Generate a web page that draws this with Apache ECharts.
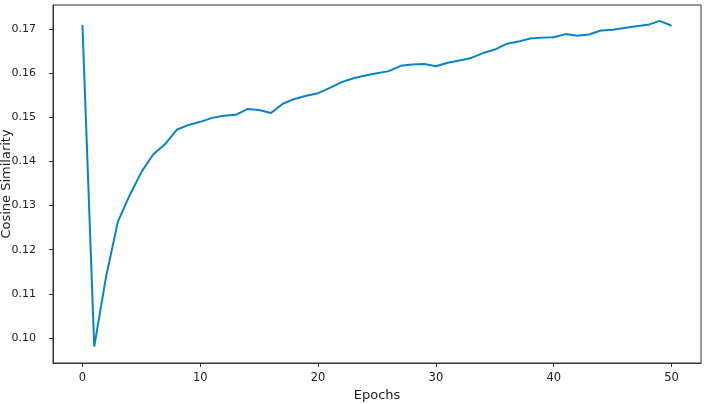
<!DOCTYPE html>
<html>
<head>
<meta charset="utf-8">
<script src="https://cdn.jsdelivr.net/npm/echarts@6/dist/echarts.min.js"></script>
<style>html,body{margin:0;padding:0;background:#fff}#c{width:706px;height:404px}</style>
</head>
<body>
<div id="c"></div>
<script>
const epochs = [0,1,2,3,4,5,6,7,8,9,10,11,12,13,14,15,16,17,18,19,20,21,22,23,24,25,26,27,28,29,30,31,32,33,34,35,36,37,38,39,40,41,42,43,44,45,46,47,48,49,50];
const cosineSimilarity = [0.1710,0.0980,0.1138,0.1263,0.1323,0.1376,0.1416,0.1439,0.1472,0.1483,0.1490,0.1499,0.1504,0.1506,0.1519,0.1517,0.1510,0.1531,0.1542,0.1549,0.1555,0.1567,0.1580,0.1589,0.1595,0.1600,0.1605,0.1617,0.1620,0.1621,0.1616,0.1624,0.1629,0.1635,0.1646,0.1654,0.1667,0.1672,0.1679,0.1681,0.1682,0.1689,0.1685,0.1688,0.1697,0.1699,0.1703,0.1707,0.1710,0.1719,0.1708];
const xTicks = [0,10,20,30,40,50];
const yTicks = [0.10,0.11,0.12,0.13,0.14,0.15,0.16,0.17];

const chart = echarts.init(document.getElementById('c'), null, {renderer:'canvas'});
const font = '"DejaVu Sans"';
const axisColor = '#333';
chart.setOption({
  animation:false,
  backgroundColor:'#fff',
  grid:{left:53, top:5, right:5, bottom:41, containLabel:false, outerBoundsMode:'none', show:true, borderColor:axisColor, borderWidth:1},
  xAxis:{
    type:'value', min:-2.5, max:52.5,
    name:'Epochs', nameLocation:'middle', nameGap:26, nameMoveOverlap:false,
    nameTextStyle:{fontFamily:font, fontSize:13, color:'#222'},
    axisLine:{show:true, onZero:false, lineStyle:{color:axisColor, width:1}},
    axisTick:{show:true, length:4, inside:false, customValues:xTicks, lineStyle:{color:axisColor}},
    axisLabel:{customValues:xTicks, margin:9, fontFamily:font, fontSize:11.5, color:'#222'},
    splitLine:{show:false}
  },
  yAxis:{
    type:'value', min:0.0943, max:0.1755,
    name:'Cosine Similarity', nameLocation:'middle', nameGap:40, nameMoveOverlap:false,
    nameTextStyle:{fontFamily:font, fontSize:13, color:'#222'},
    axisLine:{show:true, onZero:false, lineStyle:{color:axisColor, width:1}},
    axisTick:{show:true, length:4, inside:false, customValues:yTicks, lineStyle:{color:axisColor}},
    axisLabel:{customValues:yTicks, margin:17, fontFamily:font, fontSize:11, color:'#222', formatter:v=>v.toFixed(2)},
    splitLine:{show:false}
  },
  series:[{
    type:'line', data:epochs.map((e,i)=>[e,cosineSimilarity[i]]),
    showSymbol:false, symbol:'none',
    lineStyle:{color:'#0884c6', width:2},
    clip:true
  }]
});
</script>
</body>
</html>
